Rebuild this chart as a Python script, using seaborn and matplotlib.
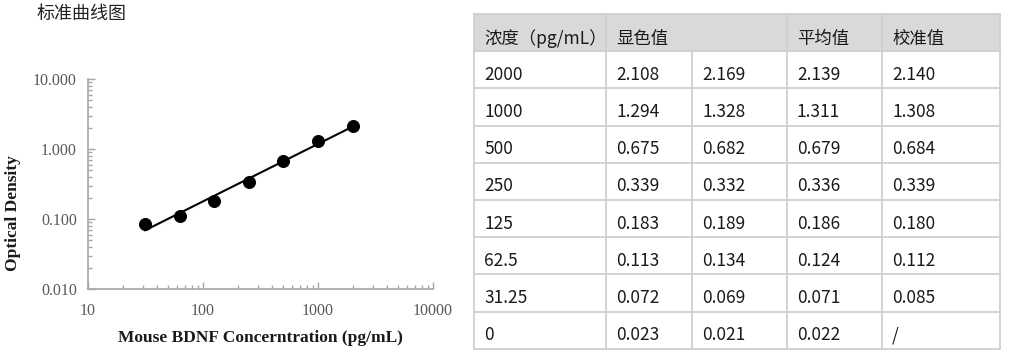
import numpy as np
import pandas as pd
import matplotlib
matplotlib.use("Agg")
import matplotlib.pyplot as plt
import seaborn as sns
from matplotlib.ticker import LogLocator, FixedLocator, NullFormatter, FixedFormatter

sns.set_style("white")
plt.rcParams['font.family'] = ['Noto Sans CJK SC', 'DejaVu Sans']

# ---------------- data ----------------
conc_labels = ["2000", "1000", "500", "250", "125", "62.5", "31.25", "0"]
od_rep1 = ["2.108", "1.294", "0.675", "0.339", "0.183", "0.113", "0.072", "0.023"]
od_rep2 = ["2.169", "1.328", "0.682", "0.332", "0.189", "0.134", "0.069", "0.021"]
od_mean = ["2.139", "1.311", "0.679", "0.336", "0.186", "0.124", "0.071", "0.022"]
od_cal = ["2.140", "1.308", "0.684", "0.339", "0.180", "0.112", "0.085", "/"]
header = ["浓度（pg/mL）", "显色值", "", "平均值", "校准值"]

std_conc = [2000, 1000, 500, 250, 125, 62.5, 31.25]
std_od = [2.140, 1.308, 0.684, 0.339, 0.180, 0.112, 0.085]

y_ticks = [0.01, 0.1, 1, 10]
y_ticklabels = ["0.010", "0.100", "1.000", "10.000"]
x_ticks = [10, 100, 1000, 10000]
x_ticklabels = ["10", "100", "1000", "10000"]

W, H = 1016, 361
fig = plt.figure(figsize=(W / 100, H / 100), dpi=100)

# ---------------- chart ----------------
L, R, T, B = 88, 433, 79, 289
ax = fig.add_axes([L / W, 1 - B / H, (R - L) / W, (B - T) / H])
df = pd.DataFrame({"conc": std_conc, "od": std_od})

# power-law fit (linear in log-log)
slope, intercept = np.polyfit(np.log10(df["conc"]), np.log10(df["od"]), 1)
fit_x = np.array([min(std_conc), max(std_conc)])
fit_df = pd.DataFrame({"conc": fit_x, "od": 10 ** (intercept + slope * np.log10(fit_x))})

sns.lineplot(data=fit_df, x="conc", y="od", ax=ax, color="black", linewidth=1.5)
sns.scatterplot(data=df, x="conc", y="od", ax=ax, color="black", s=75,
                edgecolor="black", zorder=3)

ax.set_xscale("log")
ax.set_yscale("log")
ax.set_xlim(10, 10000)
ax.set_ylim(0.01, 10)

serif = "Liberation Serif"
ax.xaxis.set_major_locator(FixedLocator(x_ticks))
ax.xaxis.set_major_formatter(FixedFormatter(x_ticklabels))
ax.yaxis.set_major_locator(FixedLocator(y_ticks))
ax.yaxis.set_major_formatter(FixedFormatter(y_ticklabels))
ax.xaxis.set_minor_locator(LogLocator(base=10, subs=np.arange(2, 10)))
ax.yaxis.set_minor_locator(LogLocator(base=10, subs=np.arange(2, 10)))
ax.xaxis.set_minor_formatter(NullFormatter())
ax.yaxis.set_minor_formatter(NullFormatter())

ax.tick_params(axis="both", which="both", bottom=True, left=True)
ax.tick_params(axis="both", which="major", direction="in", length=5, width=1,
               color="#a6a6a6", labelcolor="#595959", labelsize=11.5, pad=8)
ax.tick_params(axis="x", which="major", pad=10)
ax.tick_params(axis="both", which="minor", direction="in", length=3, width=1,
               color="#a6a6a6")
for lab in ax.get_xticklabels() + ax.get_yticklabels():
    lab.set_fontfamily(serif)

for s in ["top", "right"]:
    ax.spines[s].set_visible(False)
for s in ["left", "bottom"]:
    ax.spines[s].set_color("#a6a6a6")
    ax.spines[s].set_linewidth(1.2)

ax.set_xlabel("Mouse BDNF Concerntration (pg/mL)", family=serif, fontweight="bold",
              fontsize=12.5, color="#1a1a1a", labelpad=8)
ax.set_ylabel("Optical Density", family=serif, fontweight="bold",
              fontsize=12.5, color="#1a1a1a")
ax.yaxis.set_label_coords((21 - L) / (R - L), (B - 213) / (B - T))

fig.text(37 / W, 1 - 14 / H, "标准曲线图", fontsize=13, color="#222222",
         va="center", ha="left", family=["Noto Sans CJK SC", "DejaVu Sans"])

# ---------------- table ----------------
tax = fig.add_axes([0, 0, 1, 1])
tax.set_xlim(0, W)
tax.set_ylim(H, 0)
tax.axis("off")

col_edges = [474, 606, 692, 787, 882, 1000]
row_top, row_h = 14, 37.2
n_rows = 1 + len(conc_labels)
row_edges = [row_top + i * row_h for i in range(n_rows + 1)]
grid_c = "#d0d0d0"

tax.add_patch(plt.Rectangle((col_edges[0], row_edges[0]), col_edges[-1] - col_edges[0],
                            row_edges[1] - row_edges[0], facecolor="#d9d9d9",
                            edgecolor="none", zorder=1))
for y in row_edges:
    tax.plot([col_edges[0], col_edges[-1]], [y, y], color=grid_c, lw=1.3, zorder=2)
for i, x in enumerate(col_edges):
    if i == 2:
        tax.plot([x, x], [row_edges[1], row_edges[-1]], color=grid_c, lw=1.3, zorder=2)
    else:
        tax.plot([x, x], [row_edges[0], row_edges[-1]], color=grid_c, lw=1.3, zorder=2)

tfont = dict(fontsize=12.5, color="#1a1a1a", va="center", ha="left",
             family=["Noto Sans CJK SC", "DejaVu Sans"])
for j, h in enumerate(header):
    if h:
        tax.text(col_edges[j] + 10, (row_edges[0] + row_edges[1]) / 2 + 6, h, **tfont)
cols = [conc_labels, od_rep1, od_rep2, od_mean, od_cal]
for i in range(len(conc_labels)):
    yc = (row_edges[i + 1] + row_edges[i + 2]) / 2 + 5
    for j, c in enumerate(cols):
        tax.text(col_edges[j] + 10, yc, c[i], **tfont)

fig.savefig("out.png", dpi=100)
